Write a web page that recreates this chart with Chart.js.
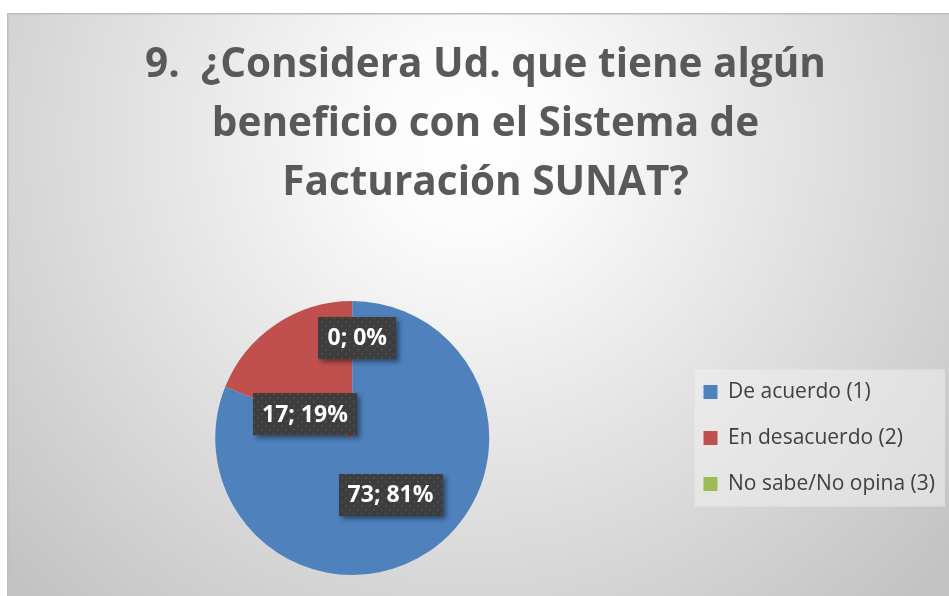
<!DOCTYPE html>
<html>
<head>
<meta charset="utf-8">
<script src="https://cdn.jsdelivr.net/npm/chart.js@4/dist/chart.umd.min.js"></script>
<style>
html,body{margin:0;padding:0;background:#ffffff;}
#wrap{width:949px;height:596px;position:relative;}
</style>
</head>
<body>
<div id="wrap"><canvas id="c" width="949" height="596"></canvas></div>
<script>
const titleLines = ["9.  ¿Considera Ud. que tiene algún", "beneficio con el Sistema de", "Facturación SUNAT?"];
const categories = ["De acuerdo (1)", "En desacuerdo (2)", "No sabe/No opina (3)"];
const counts = [73, 17, 0];
const sliceColors = ["#4F81BD", "#C0504D", "#9BBB59"];

// label placement tweaks (pixels, relative to the mid-radius point of each slice)
const labelNudge = [[0, 0], [-9, 33], [5, -32]];

function makePattern(ctx) {
  const p = document.createElement('canvas');
  p.width = 8; p.height = 8;
  const pc = p.getContext('2d');
  pc.fillStyle = '#3d3d3d';
  pc.fillRect(0, 0, 8, 8);
  pc.fillStyle = '#4c4c4c';
  pc.fillRect(1, 1, 2, 2);
  pc.fillRect(5, 5, 2, 2);
  return ctx.createPattern(p, 'repeat');
}

const bgPlugin = {
  id: 'bg',
  beforeDraw(chart) {
    const ctx = chart.ctx;
    ctx.save();
    ctx.fillStyle = '#ffffff';
    ctx.fillRect(0, 0, chart.width, chart.height);
    const g = ctx.createRadialGradient(470, 140, 0, 470, 140, 640);
    g.addColorStop(0, '#ffffff');
    g.addColorStop(0.15, '#fbfbfb');
    g.addColorStop(1, '#c2c2c2');
    ctx.fillStyle = g;
    ctx.fillRect(8, 14, chart.width - 8, chart.height - 14);
    ctx.fillStyle = '#bdbdbd';
    ctx.fillRect(7, 13, chart.width - 7, 1.5);
    ctx.fillRect(7, 13, 1.5, chart.height - 13);
    // legend box
    const lg = chart.legend;
    if (lg && lg.legendHitBoxes && lg.legendHitBoxes.length) {
      const hb = lg.legendHitBoxes;
      const x0 = hb[0].left - 9;
      const y0 = hb[0].top - 12;
      const y1 = hb[hb.length - 1].top + hb[hb.length - 1].height + 12;
      ctx.fillStyle = 'rgba(240,240,240,0.55)';
      ctx.fillRect(x0, y0, 945 - x0, y1 - y0);
    }
    ctx.restore();
  }
};

const labelPlugin = {
  id: 'boxLabels',
  afterDatasetsDraw(chart) {
    const ctx = chart.ctx;
    const meta = chart.getDatasetMeta(0);
    const data = chart.data.datasets[0].data;
    const total = data.reduce((a, b) => a + b, 0);
    const pat = makePattern(ctx);
    ctx.save();
    ctx.font = 'bold 23px "Open Sans", sans-serif';
    ctx.textAlign = 'center';
    ctx.textBaseline = 'middle';
    meta.data.forEach((arc, i) => {
      const p = arc.getProps(['x', 'y', 'startAngle', 'endAngle', 'outerRadius'], true);
      const mid = (p.startAngle + p.endAngle) / 2;
      const r = p.outerRadius * 0.5;
      const cx = p.x + Math.cos(mid) * r + labelNudge[i][0];
      const cy = p.y + Math.sin(mid) * r + labelNudge[i][1];
      const txt = data[i] + '; ' + Math.round(data[i] / total * 100) + '%';
      const w = ctx.measureText(txt).width + 18;
      const h = 42;
      ctx.save();
      ctx.shadowColor = 'rgba(0,0,0,0.45)';
      ctx.shadowBlur = 5;
      ctx.shadowOffsetX = 3;
      ctx.shadowOffsetY = 3;
      ctx.fillStyle = pat;
      ctx.fillRect(Math.round(cx - w / 2), Math.round(cy - h / 2), Math.round(w), h);
      ctx.restore();
      ctx.fillStyle = '#ffffff';
      ctx.fillText(txt, cx, cy + 1);
    });
    ctx.restore();
  }
};

new Chart(document.getElementById('c'), {
  type: 'pie',
  data: {
    labels: categories,
    datasets: [{
      data: counts,
      backgroundColor: sliceColors,
      borderWidth: 0
    }]
  },
  options: {
    responsive: false,
    animation: false,
    layout: { padding: { left: 26, right: 4, top: 0, bottom: 21 } },
    plugins: {
      tooltip: { enabled: false },
      title: {
        display: true,
        text: titleLines,
        color: '#595959',
        font: { family: '"Open Sans", sans-serif', size: 40.5, weight: 'bold', lineHeight: 1.457 },
        padding: { top: 36, bottom: 88 }
      },
      legend: {
        position: 'right',
        align: 'center',
        fullSize: false,
        labels: {
          color: '#404040',
          font: { family: '"Open Sans", sans-serif', size: 21, lineHeight: 1.2 },
          boxWidth: 14,
          boxHeight: 14,
          padding: 25
        }
      }
    }
  },
  plugins: [bgPlugin, labelPlugin]
});
</script>
</body>
</html>
